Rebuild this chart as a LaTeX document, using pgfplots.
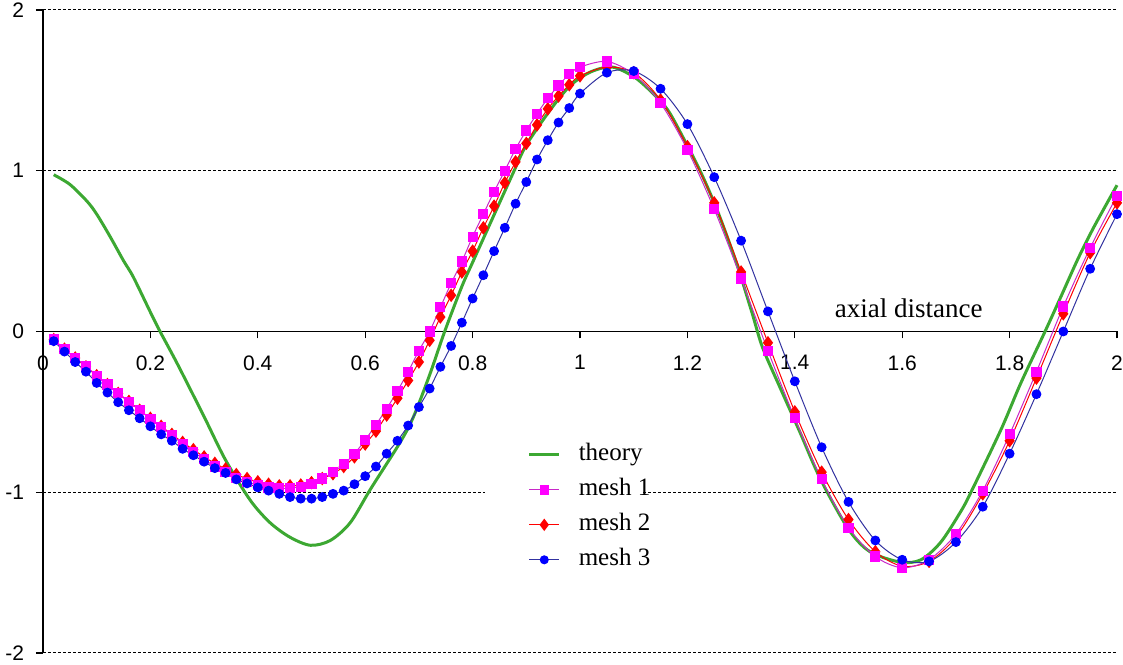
\documentclass[border=0pt]{standalone}
\usepackage{fontspec}
\setmainfont{Liberation Sans}
\newfontfamily\serifnew{Liberation Serif}
\usepackage{pgfplots}
\pgfplotsset{compat=1.18}
\definecolor{thgreen}{RGB}{60,168,50}
\definecolor{mag}{RGB}{255,0,255}
\definecolor{magline}{RGB}{200,40,200}
\definecolor{rd}{RGB}{255,0,0}
\definecolor{bl}{RGB}{0,0,255}
\definecolor{blline}{RGB}{50,50,160}

\pgfplotstableread{
x y
0.02 0.975
0.05 0.915
0.082 0.81
0.10 0.73
0.125 0.59
0.15 0.44
0.168 0.34
0.20 0.12
0.218 0.0
0.25 -0.20
0.30 -0.53
0.34 -0.80
0.386 -1.05
0.423 -1.19
0.46 -1.28
0.498 -1.33
0.535 -1.30
0.572 -1.19
0.61 -0.98
0.665 -0.69
0.69 -0.53
0.72 -0.27
0.748 0.0
0.78 0.28
0.80 0.43
0.846 0.77
0.876 0.99
0.90 1.16
0.945 1.38
0.982 1.53
1.02 1.615
1.06 1.645
1.10 1.585
1.13 1.50
1.163 1.38
1.193 1.20
1.225 0.99
1.256 0.75
1.29 0.44
1.32 0.12
1.34 -0.10
1.374 -0.36
1.41 -0.63
1.448 -0.92
1.50 -1.23
1.54 -1.37
1.597 -1.435
1.635 -1.42
1.672 -1.31
1.709 -1.12
1.728 -1.00
1.784 -0.61
1.821 -0.32
1.866 0.0
1.896 0.22
1.927 0.45
1.957 0.65
2.0 0.91
}\theory

\pgfplotstableread{
x y
0.02 -0.05
0.04 -0.11
0.06 -0.165
0.08 -0.215
0.10 -0.275
0.12 -0.33
0.14 -0.385
0.16 -0.44
0.18 -0.49
0.20 -0.545
0.22 -0.595
0.24 -0.645
0.26 -0.70
0.28 -0.75
0.30 -0.795
0.32 -0.84
0.34 -0.875
0.36 -0.91
0.38 -0.935
0.40 -0.955
0.42 -0.97
0.44 -0.975
0.46 -0.975
0.48 -0.965
0.50 -0.95
0.52 -0.915
0.54 -0.875
0.56 -0.825
0.58 -0.76
0.60 -0.675
0.62 -0.58
0.64 -0.48
0.66 -0.37
0.68 -0.25
0.70 -0.12
0.72 0.0
0.74 0.15
0.76 0.30
0.78 0.435
0.80 0.59
0.82 0.73
0.84 0.87
0.86 1.00
0.88 1.135
0.90 1.25
0.92 1.355
0.94 1.45
0.96 1.53
0.98 1.60
1.00 1.645
1.05 1.68
1.10 1.60
1.15 1.42
1.20 1.13
1.25 0.76
1.30 0.33
1.35 -0.12
1.40 -0.54
1.45 -0.92
1.50 -1.22
1.55 -1.40
1.60 -1.47
1.65 -1.42
1.70 -1.26
1.75 -0.99
1.80 -0.64
1.85 -0.25
1.90 0.155
1.95 0.52
2.00 0.845
}\meshone

\pgfplotstableread{
x y
0.02 -0.05
0.04 -0.11
0.06 -0.165
0.08 -0.22
0.10 -0.275
0.12 -0.33
0.14 -0.385
0.16 -0.435
0.18 -0.49
0.20 -0.54
0.22 -0.59
0.24 -0.64
0.26 -0.69
0.28 -0.735
0.30 -0.78
0.32 -0.82
0.34 -0.855
0.36 -0.89
0.38 -0.915
0.40 -0.935
0.42 -0.95
0.44 -0.96
0.46 -0.96
0.48 -0.955
0.50 -0.94
0.52 -0.915
0.54 -0.885
0.56 -0.84
0.58 -0.78
0.60 -0.70
0.62 -0.62
0.64 -0.52
0.66 -0.415
0.68 -0.305
0.70 -0.19
0.72 -0.055
0.74 0.09
0.76 0.225
0.78 0.37
0.80 0.50
0.82 0.645
0.84 0.78
0.86 0.925
0.88 1.055
0.90 1.17
0.92 1.285
0.94 1.385
0.96 1.465
0.98 1.535
1.00 1.59
1.05 1.645
1.10 1.61
1.15 1.44
1.20 1.15
1.25 0.80
1.30 0.37
1.35 -0.07
1.40 -0.50
1.45 -0.875
1.50 -1.17
1.55 -1.37
1.60 -1.46
1.65 -1.43
1.70 -1.28
1.75 -1.01
1.80 -0.68
1.85 -0.29
1.90 0.11
1.95 0.49
2.00 0.80
}\meshtwo

\pgfplotstableread{
x y
0.02 -0.06
0.04 -0.125
0.06 -0.19
0.08 -0.25
0.10 -0.32
0.12 -0.38
0.14 -0.44
0.16 -0.49
0.18 -0.54
0.20 -0.59
0.22 -0.64
0.24 -0.68
0.26 -0.73
0.28 -0.77
0.30 -0.81
0.32 -0.85
0.34 -0.88
0.36 -0.92
0.38 -0.945
0.40 -0.97
0.42 -0.99
0.44 -1.01
0.46 -1.03
0.48 -1.04
0.50 -1.04
0.52 -1.03
0.54 -1.01
0.56 -0.99
0.58 -0.95
0.60 -0.90
0.62 -0.84
0.64 -0.76
0.66 -0.68
0.68 -0.585
0.70 -0.47
0.72 -0.355
0.74 -0.22
0.76 -0.09
0.78 0.055
0.80 0.205
0.82 0.35
0.84 0.50
0.86 0.645
0.88 0.795
0.90 0.93
0.92 1.07
0.94 1.19
0.96 1.30
0.98 1.39
1.00 1.48
1.05 1.61
1.10 1.62
1.15 1.51
1.20 1.29
1.25 0.96
1.30 0.565
1.35 0.125
1.40 -0.31
1.45 -0.72
1.50 -1.06
1.55 -1.30
1.60 -1.42
1.65 -1.43
1.70 -1.31
1.75 -1.09
1.80 -0.76
1.85 -0.39
1.90 0.0
1.95 0.39
2.00 0.73
}\meshthree

\begin{document}
\begin{tikzpicture}
\begin{axis}[
  scale only axis, width=537pt, height=321.5pt,
  xmin=0, xmax=2, ymin=-2, ymax=2,
  axis lines=middle,
  axis line style={-, black, line width=0.6pt},
  hide obscured x ticks=false, hide obscured y ticks=false,
  xtick={0,0.2,0.4,0.6,0.8,1,1.2,1.4,1.6,1.8,2},
  ytick={-2,-1,0,1,2},
  yticklabels={-2,-1,0,1,{}},
  tick align=outside, major tick length=3.5pt,
  tick style={black, line width=0.6pt},
  ymajorgrids,
  grid style={black, line width=0.5pt, dash pattern=on 1.5pt off 1pt},
  tick label style={font=\fontsize{10.5}{12}\selectfont},
  /pgf/number format/assume math mode=true,
  xticklabel style={anchor=north, yshift=-5pt},
  yticklabel style={anchor=east, xshift=-2.5pt},
  clip=false,
  legend style={at={(axis cs:0.902,-0.69)}, anchor=north west, draw=none, fill=none,
    inner sep=0pt, row sep=5.5pt, column sep=9pt,
    font=\serifnew\fontsize{12.5}{14}\selectfont,
    nodes={inner sep=0pt, text height=9pt, text depth=3pt}},
  legend cell align=left,
  legend image code/.code={\draw[mark repeat=2,mark phase=2,#1] plot coordinates {(0pt,0pt)(7.5pt,0pt)(15pt,0pt)};},
]
\fill[white] (axis cs:0.824,-0.95) rectangle (axis cs:1.115,-1.05);
\addplot[forget plot, thgreen, line width=1.5pt, smooth] table {\theory};
\addplot[forget plot, rd, line width=0.5pt, smooth, mark=diamond*, mark size=3pt, mark options={solid, fill=rd, draw=rd}] table {\meshtwo};
\addplot[forget plot, magline, line width=0.5pt, smooth, mark=square*, mark size=2.3pt, mark options={solid, fill=mag, draw=mag}] table {\meshone};
\addplot[forget plot, blline, line width=0.5pt, smooth, mark=*, mark size=2.2pt, mark options={solid, fill=bl, draw=bl}] table {\meshthree};

\addlegendimage{thgreen, line width=1.5pt}
\addlegendentry{theory}
\addlegendimage{magline, line width=0.5pt, mark=square*, mark size=2.1pt, mark options={solid, fill=mag, draw=mag}}
\addlegendentry{mesh 1}
\addlegendimage{rd, line width=0.5pt, mark=diamond*, mark size=2.7pt, mark options={solid, fill=rd, draw=rd}}
\addlegendentry{mesh 2}
\addlegendimage{blline, line width=0.5pt, mark=*, mark size=2pt, mark options={solid, fill=bl, draw=bl}}
\addlegendentry{mesh 3}

\node[anchor=east, font=\fontsize{10.5}{12}\selectfont] at ([xshift=-6pt]axis cs:0,2) {2};
\node[anchor=base, font=\serifnew\fontsize{13.5}{15}\selectfont] at (axis cs:1.612,0.087) {axial distance};
\end{axis}
\pgfresetboundingbox
\path[use as bounding box] ([shift={(-21.5pt,-6pt)}]current axis.south west) rectangle ([shift={(3pt,5pt)}]current axis.north east);
\end{tikzpicture}
\end{document}
